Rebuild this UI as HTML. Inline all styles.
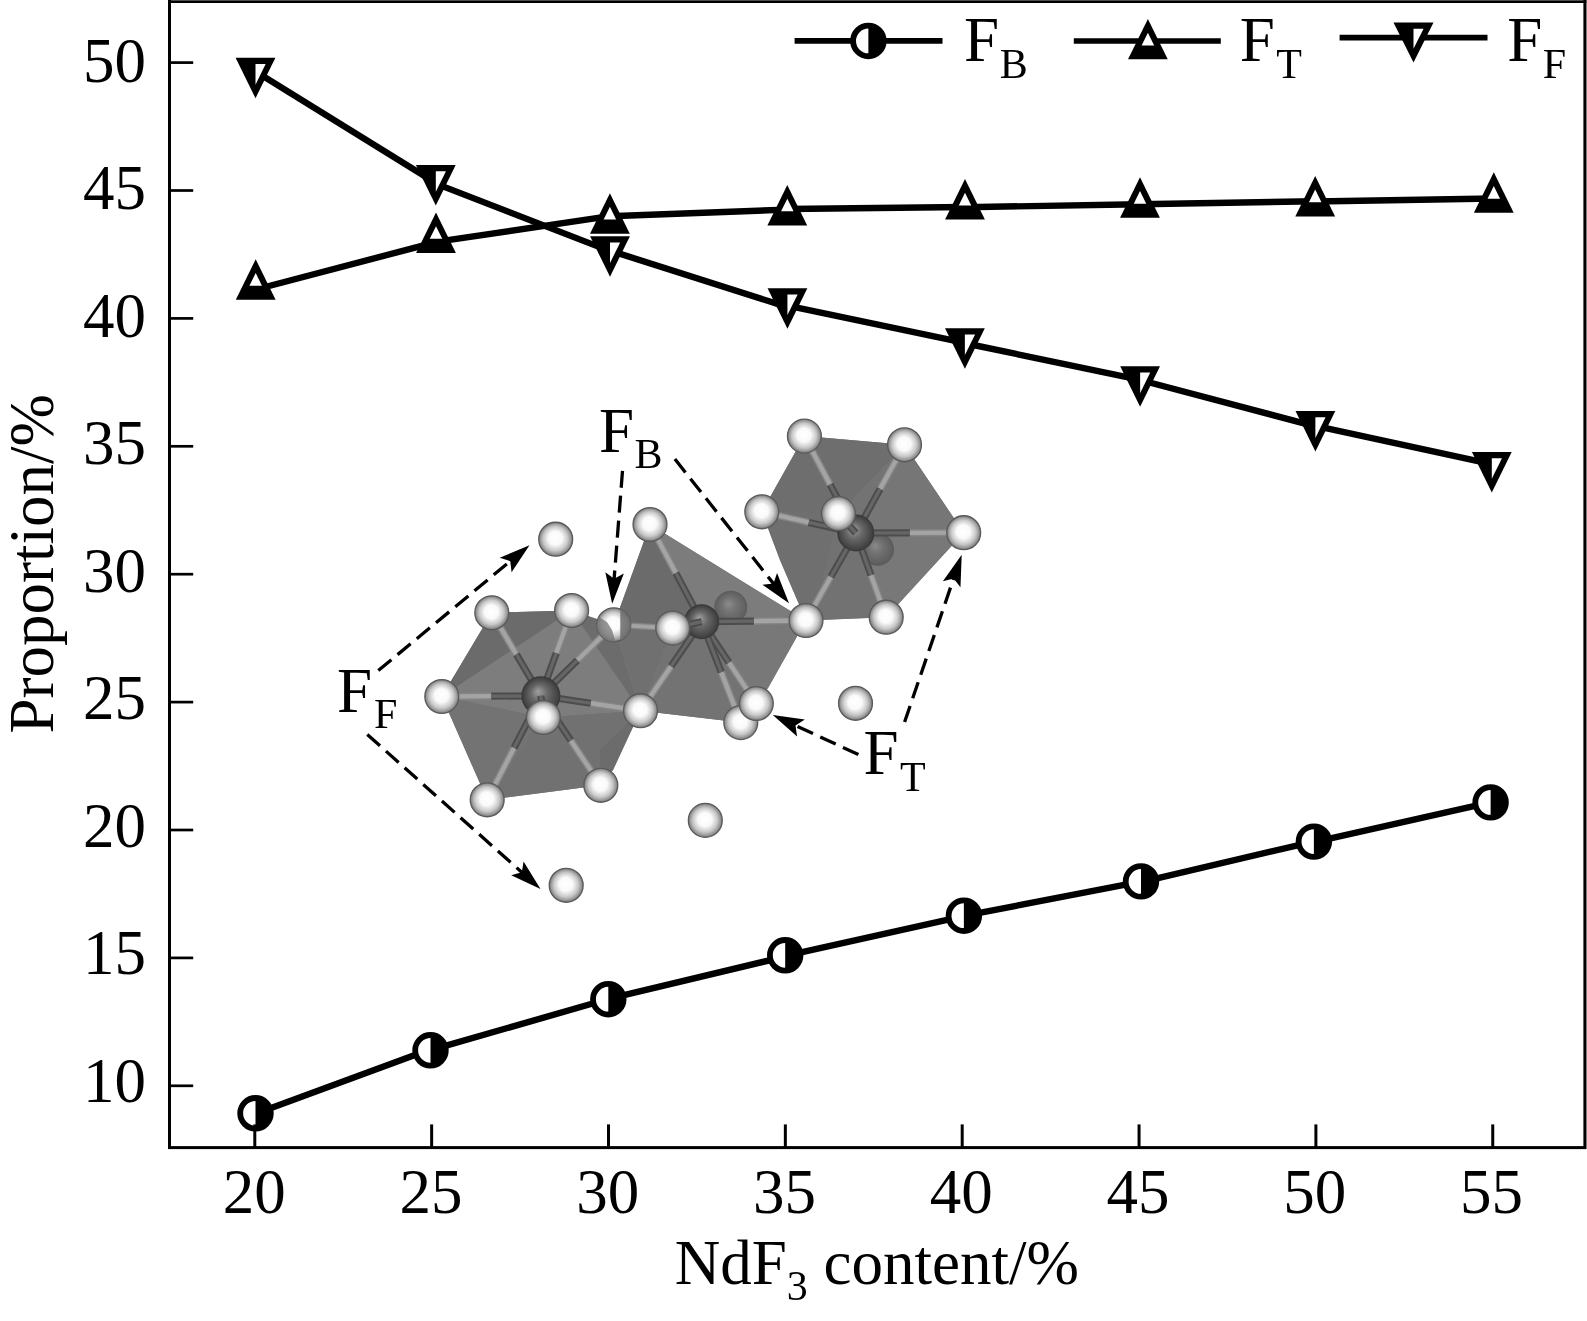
<!DOCTYPE html>
<html><head><meta charset="utf-8"><title>Proportion vs NdF3 content</title>
<style>html,body{margin:0;padding:0;background:#fff;}svg{display:block;will-change:transform;}text{font-family:"Liberation Serif","Times New Roman",serif;fill:#000;}</style>
</head><body>
<svg xmlns="http://www.w3.org/2000/svg" width="1587" height="1321" viewBox="0 0 1587 1321">
<defs>
<radialGradient id="gF" cx="0.5" cy="0.5" r="0.5" fx="0.48" fy="0.45"><stop offset="0" stop-color="#ffffff"/><stop offset="0.4" stop-color="#fafafa"/><stop offset="0.72" stop-color="#c8c8c8"/><stop offset="0.9" stop-color="#979797"/><stop offset="1" stop-color="#767676"/></radialGradient>
<radialGradient id="gN" cx="0.5" cy="0.5" r="0.5" fx="0.42" fy="0.38"><stop offset="0" stop-color="#a0a0a0"/><stop offset="0.45" stop-color="#686868"/><stop offset="1" stop-color="#3c3c3c"/></radialGradient>
</defs>
<rect x="0" y="0" width="1587" height="1321" fill="#fff"/>
<g id="molecule"><path d="M804.4 436.1L904.5 444.8L963.7 532.7L886.2 617.2L806 620.5L780 560L761.8 511.8Z" fill="#737373"/><path d="M804.4 436.1L904.5 444.8L838.4 513.6L761.8 511.8Z" fill="#6e6e6e"/><path d="M904.5 444.8L963.7 532.7L855.8 533Z" fill="#767676"/><path d="M761.8 511.8L838.4 513.6L820 590L806 620.5L780 560Z" fill="#6f6f6f"/><path d="M855.8 533L963.7 532.7L886.2 617.2Z" fill="#787878"/><path d="M838.4 513.6L855.8 533L886.2 617.2L806 620.5L820 590Z" fill="#727272"/><circle cx="877.5" cy="549.3" r="15.85" fill="url(#gN)" stroke="#3a3a3a" stroke-width="1.3" opacity="0.45"/><line x1="804.4" y1="436.1" x2="830.1" y2="484.55" stroke="#858585" stroke-width="7.2"/><line x1="804.4" y1="436.1" x2="830.1" y2="484.55" stroke="#a4a4a4" stroke-width="4.32"/><line x1="830.1" y1="484.55" x2="855.8" y2="533" stroke="#4c4c4c" stroke-width="7.2"/><line x1="830.1" y1="484.55" x2="855.8" y2="533" stroke="#666666" stroke-width="3.24"/><line x1="904.5" y1="444.8" x2="880.15" y2="488.9" stroke="#858585" stroke-width="7.2"/><line x1="904.5" y1="444.8" x2="880.15" y2="488.9" stroke="#a4a4a4" stroke-width="4.32"/><line x1="880.15" y1="488.9" x2="855.8" y2="533" stroke="#4c4c4c" stroke-width="7.2"/><line x1="880.15" y1="488.9" x2="855.8" y2="533" stroke="#666666" stroke-width="3.24"/><line x1="761.8" y1="511.8" x2="808.8" y2="522.4" stroke="#858585" stroke-width="7.2"/><line x1="761.8" y1="511.8" x2="808.8" y2="522.4" stroke="#a4a4a4" stroke-width="4.32"/><line x1="808.8" y1="522.4" x2="855.8" y2="533" stroke="#4c4c4c" stroke-width="7.2"/><line x1="808.8" y1="522.4" x2="855.8" y2="533" stroke="#666666" stroke-width="3.24"/><line x1="963.7" y1="532.7" x2="909.75" y2="532.85" stroke="#858585" stroke-width="7.2"/><line x1="963.7" y1="532.7" x2="909.75" y2="532.85" stroke="#a4a4a4" stroke-width="4.32"/><line x1="909.75" y1="532.85" x2="855.8" y2="533" stroke="#4c4c4c" stroke-width="7.2"/><line x1="909.75" y1="532.85" x2="855.8" y2="533" stroke="#666666" stroke-width="3.24"/><line x1="886.2" y1="617.2" x2="871" y2="575.1" stroke="#858585" stroke-width="7.2"/><line x1="886.2" y1="617.2" x2="871" y2="575.1" stroke="#a4a4a4" stroke-width="4.32"/><line x1="871" y1="575.1" x2="855.8" y2="533" stroke="#4c4c4c" stroke-width="7.2"/><line x1="871" y1="575.1" x2="855.8" y2="533" stroke="#666666" stroke-width="3.24"/><line x1="806" y1="620.5" x2="830.9" y2="576.75" stroke="#858585" stroke-width="7.2"/><line x1="806" y1="620.5" x2="830.9" y2="576.75" stroke="#a4a4a4" stroke-width="4.32"/><line x1="830.9" y1="576.75" x2="855.8" y2="533" stroke="#4c4c4c" stroke-width="7.2"/><line x1="830.9" y1="576.75" x2="855.8" y2="533" stroke="#666666" stroke-width="3.24"/><circle cx="855.8" cy="533" r="17.85" fill="url(#gN)" stroke="#3a3a3a" stroke-width="1.3"/><circle cx="804.4" cy="436.1" r="16.95" fill="url(#gF)" stroke="#5a5a5a" stroke-width="1.3"/><circle cx="904.5" cy="444.8" r="16.95" fill="url(#gF)" stroke="#5a5a5a" stroke-width="1.3"/><circle cx="761.8" cy="511.8" r="16.95" fill="url(#gF)" stroke="#5a5a5a" stroke-width="1.3"/><circle cx="963.7" cy="532.7" r="16.95" fill="url(#gF)" stroke="#5a5a5a" stroke-width="1.3"/><circle cx="886.2" cy="617.2" r="16.95" fill="url(#gF)" stroke="#5a5a5a" stroke-width="1.3"/><line x1="838.4" y1="513.6" x2="847.1" y2="523.3" stroke="#858585" stroke-width="7.2"/><line x1="838.4" y1="513.6" x2="847.1" y2="523.3" stroke="#a4a4a4" stroke-width="4.32"/><line x1="847.1" y1="523.3" x2="855.8" y2="533" stroke="#4c4c4c" stroke-width="7.2"/><line x1="847.1" y1="523.3" x2="855.8" y2="533" stroke="#666666" stroke-width="3.24"/><circle cx="838.4" cy="513.6" r="16.95" fill="url(#gF)" stroke="#5a5a5a" stroke-width="1.3"/><path d="M650 524.5L806 620.5L768 688L756.3 703.5L740.8 722.6L640.5 710.7L613.8 624.8Z" fill="#767676"/><path d="M650 524.5L806 620.5L701.7 621.7Z" fill="#7c7c7c"/><path d="M650 524.5L701.7 621.7L672.7 628.1L613.8 624.8Z" fill="#6b6b6b"/><path d="M613.8 624.8L672.7 628.1L640.5 710.7Z" fill="#707070"/><path d="M701.7 621.7L806 620.5L768 688L756.3 703.5Z" fill="#787878"/><path d="M672.7 628.1L701.7 621.7L756.3 703.5L740.8 722.6L640.5 710.7Z" fill="#737373"/><circle cx="730.8" cy="607.2" r="15.85" fill="url(#gN)" stroke="#3a3a3a" stroke-width="1.3" opacity="0.45"/><line x1="650" y1="524.5" x2="675.85" y2="573.1" stroke="#858585" stroke-width="7.2"/><line x1="650" y1="524.5" x2="675.85" y2="573.1" stroke="#a4a4a4" stroke-width="4.32"/><line x1="675.85" y1="573.1" x2="701.7" y2="621.7" stroke="#4c4c4c" stroke-width="7.2"/><line x1="675.85" y1="573.1" x2="701.7" y2="621.7" stroke="#666666" stroke-width="3.24"/><line x1="756.3" y1="703.5" x2="729" y2="662.6" stroke="#858585" stroke-width="7.2"/><line x1="756.3" y1="703.5" x2="729" y2="662.6" stroke="#a4a4a4" stroke-width="4.32"/><line x1="729" y1="662.6" x2="701.7" y2="621.7" stroke="#4c4c4c" stroke-width="7.2"/><line x1="729" y1="662.6" x2="701.7" y2="621.7" stroke="#666666" stroke-width="3.24"/><line x1="740.8" y1="722.6" x2="721.25" y2="672.15" stroke="#858585" stroke-width="7.2"/><line x1="740.8" y1="722.6" x2="721.25" y2="672.15" stroke="#a4a4a4" stroke-width="4.32"/><line x1="721.25" y1="672.15" x2="701.7" y2="621.7" stroke="#4c4c4c" stroke-width="7.2"/><line x1="721.25" y1="672.15" x2="701.7" y2="621.7" stroke="#666666" stroke-width="3.24"/><line x1="640.5" y1="710.7" x2="671.1" y2="666.2" stroke="#858585" stroke-width="7.2"/><line x1="640.5" y1="710.7" x2="671.1" y2="666.2" stroke="#a4a4a4" stroke-width="4.32"/><line x1="671.1" y1="666.2" x2="701.7" y2="621.7" stroke="#4c4c4c" stroke-width="7.2"/><line x1="671.1" y1="666.2" x2="701.7" y2="621.7" stroke="#666666" stroke-width="3.24"/><line x1="806" y1="620.5" x2="753.85" y2="621.1" stroke="#858585" stroke-width="7.2"/><line x1="806" y1="620.5" x2="753.85" y2="621.1" stroke="#a4a4a4" stroke-width="4.32"/><line x1="753.85" y1="621.1" x2="701.7" y2="621.7" stroke="#4c4c4c" stroke-width="7.2"/><line x1="753.85" y1="621.1" x2="701.7" y2="621.7" stroke="#666666" stroke-width="3.24"/><circle cx="701.7" cy="621.7" r="16.85" fill="url(#gN)" stroke="#3a3a3a" stroke-width="1.3"/><circle cx="740.8" cy="722.6" r="16.95" fill="url(#gF)" stroke="#5a5a5a" stroke-width="1.3"/><circle cx="756.3" cy="703.5" r="16.95" fill="url(#gF)" stroke="#5a5a5a" stroke-width="1.3"/><circle cx="806" cy="620.5" r="16.95" fill="url(#gF)" stroke="#5a5a5a" stroke-width="1.3"/><circle cx="650" cy="524.5" r="16.95" fill="url(#gF)" stroke="#5a5a5a" stroke-width="1.3"/><line x1="672.7" y1="628.1" x2="687.2" y2="624.9" stroke="#858585" stroke-width="7.2"/><line x1="672.7" y1="628.1" x2="687.2" y2="624.9" stroke="#a4a4a4" stroke-width="4.32"/><line x1="687.2" y1="624.9" x2="701.7" y2="621.7" stroke="#4c4c4c" stroke-width="7.2"/><line x1="687.2" y1="624.9" x2="701.7" y2="621.7" stroke="#666666" stroke-width="3.24"/><line x1="613.8" y1="624.8" x2="672.7" y2="628.1" stroke="#858585" stroke-width="6.4"/><line x1="613.8" y1="624.8" x2="672.7" y2="628.1" stroke="#a4a4a4" stroke-width="3.84"/><line x1="672.7" y1="628.1" x2="672.7" y2="628.1" stroke="#4c4c4c" stroke-width="6.4"/><line x1="672.7" y1="628.1" x2="672.7" y2="628.1" stroke="#666666" stroke-width="2.88"/><circle cx="672.7" cy="628.1" r="16.95" fill="url(#gF)" stroke="#5a5a5a" stroke-width="1.3"/><path d="M491.8 612.8L571.6 610.5L613.8 624.8L640.5 710.7L613 770L600.8 785.3L487.2 799.8L441.8 696.5Z" fill="#747474"/><path d="M491.8 612.8L571.6 610.5L441.8 696.5Z" fill="#6b6b6b"/><path d="M441.8 696.5L571.6 610.5L640.5 710.7L543.3 717.5Z" fill="#7d7d7d"/><path d="M571.6 610.5L613.8 624.8L640.5 710.7Z" fill="#6c6c6c"/><path d="M441.8 696.5L543.3 717.5L487.2 799.8Z" fill="#737373"/><path d="M543.3 717.5L640.5 710.7L600.8 785.3L487.2 799.8Z" fill="#717171"/><path d="M640.5 710.7L613 770L600.8 785.3L600 750Z" fill="#6c6c6c"/><line x1="491.8" y1="612.8" x2="516.35" y2="654.3" stroke="#858585" stroke-width="7.2"/><line x1="491.8" y1="612.8" x2="516.35" y2="654.3" stroke="#a4a4a4" stroke-width="4.32"/><line x1="516.35" y1="654.3" x2="540.9" y2="695.8" stroke="#4c4c4c" stroke-width="7.2"/><line x1="516.35" y1="654.3" x2="540.9" y2="695.8" stroke="#666666" stroke-width="3.24"/><line x1="571.6" y1="610.5" x2="556.25" y2="653.15" stroke="#858585" stroke-width="7.2"/><line x1="571.6" y1="610.5" x2="556.25" y2="653.15" stroke="#a4a4a4" stroke-width="4.32"/><line x1="556.25" y1="653.15" x2="540.9" y2="695.8" stroke="#4c4c4c" stroke-width="7.2"/><line x1="556.25" y1="653.15" x2="540.9" y2="695.8" stroke="#666666" stroke-width="3.24"/><line x1="441.8" y1="696.5" x2="491.35" y2="696.15" stroke="#858585" stroke-width="7.2"/><line x1="441.8" y1="696.5" x2="491.35" y2="696.15" stroke="#a4a4a4" stroke-width="4.32"/><line x1="491.35" y1="696.15" x2="540.9" y2="695.8" stroke="#4c4c4c" stroke-width="7.2"/><line x1="491.35" y1="696.15" x2="540.9" y2="695.8" stroke="#666666" stroke-width="3.24"/><line x1="640.5" y1="710.7" x2="590.7" y2="703.25" stroke="#858585" stroke-width="7.2"/><line x1="640.5" y1="710.7" x2="590.7" y2="703.25" stroke="#a4a4a4" stroke-width="4.32"/><line x1="590.7" y1="703.25" x2="540.9" y2="695.8" stroke="#4c4c4c" stroke-width="7.2"/><line x1="590.7" y1="703.25" x2="540.9" y2="695.8" stroke="#666666" stroke-width="3.24"/><line x1="487.2" y1="799.8" x2="514.05" y2="747.8" stroke="#858585" stroke-width="7.2"/><line x1="487.2" y1="799.8" x2="514.05" y2="747.8" stroke="#a4a4a4" stroke-width="4.32"/><line x1="514.05" y1="747.8" x2="540.9" y2="695.8" stroke="#4c4c4c" stroke-width="7.2"/><line x1="514.05" y1="747.8" x2="540.9" y2="695.8" stroke="#666666" stroke-width="3.24"/><line x1="600.8" y1="785.3" x2="570.85" y2="740.55" stroke="#858585" stroke-width="7.2"/><line x1="600.8" y1="785.3" x2="570.85" y2="740.55" stroke="#a4a4a4" stroke-width="4.32"/><line x1="570.85" y1="740.55" x2="540.9" y2="695.8" stroke="#4c4c4c" stroke-width="7.2"/><line x1="570.85" y1="740.55" x2="540.9" y2="695.8" stroke="#666666" stroke-width="3.24"/><line x1="613.8" y1="624.8" x2="577.35" y2="660.3" stroke="#858585" stroke-width="7.2"/><line x1="613.8" y1="624.8" x2="577.35" y2="660.3" stroke="#a4a4a4" stroke-width="4.32"/><line x1="577.35" y1="660.3" x2="540.9" y2="695.8" stroke="#4c4c4c" stroke-width="7.2"/><line x1="577.35" y1="660.3" x2="540.9" y2="695.8" stroke="#666666" stroke-width="3.24"/><circle cx="540.9" cy="695.8" r="18.85" fill="url(#gN)" stroke="#3a3a3a" stroke-width="1.3"/><circle cx="613.8" cy="624.8" r="16.95" fill="url(#gF)" stroke="#5a5a5a" stroke-width="1.3"/><clipPath id="cL8"><circle cx="613.8" cy="624.8" r="17"/></clipPath><g clip-path="url(#cL8)"><path d="M620.3 600L640 600L640 650L620.3 650Z" fill="#6c6c6c" opacity="0.85"/><path d="M594 614L607 622L612 630L618 650L594 650Z" fill="#747474" opacity="0.75"/></g><circle cx="491.8" cy="612.8" r="16.95" fill="url(#gF)" stroke="#5a5a5a" stroke-width="1.3"/><circle cx="571.6" cy="610.5" r="16.95" fill="url(#gF)" stroke="#5a5a5a" stroke-width="1.3"/><circle cx="441.8" cy="696.5" r="16.95" fill="url(#gF)" stroke="#5a5a5a" stroke-width="1.3"/><circle cx="640.5" cy="710.7" r="16.95" fill="url(#gF)" stroke="#5a5a5a" stroke-width="1.3"/><circle cx="487.2" cy="799.8" r="16.95" fill="url(#gF)" stroke="#5a5a5a" stroke-width="1.3"/><circle cx="600.8" cy="785.3" r="16.95" fill="url(#gF)" stroke="#5a5a5a" stroke-width="1.3"/><line x1="543.3" y1="717.5" x2="542.1" y2="706.65" stroke="#858585" stroke-width="7.2"/><line x1="543.3" y1="717.5" x2="542.1" y2="706.65" stroke="#a4a4a4" stroke-width="4.32"/><line x1="542.1" y1="706.65" x2="540.9" y2="695.8" stroke="#4c4c4c" stroke-width="7.2"/><line x1="542.1" y1="706.65" x2="540.9" y2="695.8" stroke="#666666" stroke-width="3.24"/><circle cx="543.3" cy="717.5" r="16.95" fill="url(#gF)" stroke="#5a5a5a" stroke-width="1.3"/><circle cx="555.7" cy="539.2" r="16.95" fill="url(#gF)" stroke="#5a5a5a" stroke-width="1.3"/><circle cx="566.2" cy="885.3" r="16.95" fill="url(#gF)" stroke="#5a5a5a" stroke-width="1.3"/><circle cx="705.3" cy="820.4" r="16.95" fill="url(#gF)" stroke="#5a5a5a" stroke-width="1.3"/><circle cx="855.5" cy="703.3" r="16.95" fill="url(#gF)" stroke="#5a5a5a" stroke-width="1.3"/></g>
<line x1="378.3" y1="670.6" x2="511.03" y2="560.52" stroke="#000" stroke-width="3.3" stroke-dasharray="17 8"/><path d="M529.5 545.2L511.58 572.15L510.26 561.16L499.7 557.83Z" fill="#000"/>
<line x1="367.3" y1="734.5" x2="522.59" y2="873.02" stroke="#000" stroke-width="3.3" stroke-dasharray="17 8"/><path d="M540.5 889L511.18 875.3L521.84 872.36L523.56 861.42Z" fill="#000"/>
<line x1="622.5" y1="470.8" x2="614.05" y2="579.87" stroke="#000" stroke-width="3.3" stroke-dasharray="17 8"/><path d="M612.2 603.8L605.32 572.17L614.13 578.87L623.87 573.61Z" fill="#000"/>
<line x1="674.9" y1="459.1" x2="774.1" y2="584.38" stroke="#000" stroke-width="3.3" stroke-dasharray="17 8"/><path d="M789 603.2L762.46 584.67L773.48 583.6L777.05 573.12Z" fill="#000"/>
<line x1="858.4" y1="754.5" x2="794.6" y2="725.13" stroke="#000" stroke-width="3.3" stroke-dasharray="17 8"/><path d="M772.8 715.1L804.85 719.61L795.51 725.55L797.07 736.51Z" fill="#000"/>
<line x1="904.6" y1="722" x2="953.94" y2="577.51" stroke="#000" stroke-width="3.3" stroke-dasharray="17 8"/><path d="M961.7 554.8L960.48 587.14L953.62 578.46L942.88 581.13Z" fill="#000"/>
<g stroke="#000" stroke-width="6.4" stroke-linecap="butt"><line x1="255.5" y1="1113.82" x2="430.5" y2="1049.28"/><line x1="430.5" y1="1050.17" x2="608.3" y2="999"/><line x1="608.3" y1="998.92" x2="785.2" y2="956.56"/><line x1="785.2" y1="955.95" x2="963.9" y2="916.12"/><line x1="963.9" y1="915.92" x2="1141" y2="881.6"/><line x1="1141" y1="882.01" x2="1313.9" y2="841.52"/><line x1="1313.9" y1="842.11" x2="1490.6" y2="802.4"/><line x1="255.7" y1="289.49" x2="436" y2="242.13"/><line x1="436" y1="241.83" x2="609.9" y2="216.18"/><line x1="609.9" y1="216.18" x2="787.3" y2="209.61"/><line x1="787.3" y1="209.02" x2="965" y2="207.07"/><line x1="965" y1="207.21" x2="1140" y2="204.19"/><line x1="1140" y1="204.31" x2="1315.2" y2="201.28"/><line x1="1315.2" y1="201.51" x2="1493.8" y2="198.49"/><line x1="255.5" y1="71.44" x2="435.8" y2="182.99"/><line x1="435.8" y1="183.61" x2="610" y2="251.11"/><line x1="610" y1="250.62" x2="787.45" y2="307.1"/><line x1="787.45" y1="305.73" x2="964.9" y2="342.95"/><line x1="964.9" y1="343.25" x2="1140.1" y2="379.88"/><line x1="1140.1" y1="380.01" x2="1315.4" y2="426.32"/><line x1="1315.4" y1="425.86" x2="1491.8" y2="464.19"/></g>
<circle cx="255.5" cy="1113.3" r="15.3" fill="#fff" stroke="#000" stroke-width="5.8"/><path d="M255.5 1098 A15.3 15.3 0 0 1 255.5 1128.6Z" fill="#000"/><circle cx="430.5" cy="1050.3" r="15.3" fill="#fff" stroke="#000" stroke-width="5.8"/><path d="M430.5 1035 A15.3 15.3 0 0 1 430.5 1065.6Z" fill="#000"/><circle cx="608.3" cy="999.2" r="15.3" fill="#fff" stroke="#000" stroke-width="5.8"/><path d="M608.3 983.9 A15.3 15.3 0 0 1 608.3 1014.5Z" fill="#000"/><circle cx="785.2" cy="955.3" r="15.3" fill="#fff" stroke="#000" stroke-width="5.8"/><path d="M785.2 940 A15.3 15.3 0 0 1 785.2 970.6Z" fill="#000"/><circle cx="963.9" cy="915.7" r="15.3" fill="#fff" stroke="#000" stroke-width="5.8"/><path d="M963.9 900.4 A15.3 15.3 0 0 1 963.9 931Z" fill="#000"/><circle cx="1141" cy="881.4" r="15.3" fill="#fff" stroke="#000" stroke-width="5.8"/><path d="M1141 866.1 A15.3 15.3 0 0 1 1141 896.7Z" fill="#000"/><circle cx="1313.9" cy="841.6" r="15.3" fill="#fff" stroke="#000" stroke-width="5.8"/><path d="M1313.9 826.3 A15.3 15.3 0 0 1 1313.9 856.9Z" fill="#000"/><circle cx="1490.6" cy="802.4" r="15.3" fill="#fff" stroke="#000" stroke-width="5.8"/><path d="M1490.6 787.1 A15.3 15.3 0 0 1 1490.6 817.7Z" fill="#000"/><path d="M255.7 259.35L275.6 299.85L235.8 299.85Z" fill="#000"/><path d="M255.7 273L261.94 285.7L249.46 285.7Z" fill="#fff"/><path d="M436 212.5L455.9 253L416.1 253Z" fill="#000"/><path d="M436 226.15L442.24 238.85L429.76 238.85Z" fill="#fff"/><path d="M609.9 193.2L629.8 233.7L590 233.7Z" fill="#000"/><path d="M609.9 206.85L616.14 219.55L603.66 219.55Z" fill="#fff"/><path d="M787.3 185L807.2 225.5L767.4 225.5Z" fill="#000"/><path d="M787.3 198.65L793.54 211.35L781.06 211.35Z" fill="#fff"/><path d="M965 179.1L984.9 219.6L945.1 219.6Z" fill="#000"/><path d="M965 192.75L971.24 205.45L958.76 205.45Z" fill="#fff"/><path d="M1140 177.3L1159.9 217.8L1120.1 217.8Z" fill="#000"/><path d="M1140 190.95L1146.24 203.65L1133.76 203.65Z" fill="#fff"/><path d="M1315.2 175.9L1335.1 216.4L1295.3 216.4Z" fill="#000"/><path d="M1315.2 189.55L1321.44 202.25L1308.96 202.25Z" fill="#fff"/><path d="M1493.8 172.3L1513.7 212.8L1473.9 212.8Z" fill="#000"/><path d="M1493.8 185.95L1500.04 198.65L1487.56 198.65Z" fill="#fff"/><path d="M235.6 57.87L275.4 57.87L255.5 98.37Z" fill="#000"/><path d="M255.5 64.07L265.65 64.07L255.5 84.72Z" fill="#fff"/><path d="M415.9 165L455.7 165L435.8 205.5Z" fill="#000"/><path d="M435.8 171.2L445.95 171.2L435.8 191.85Z" fill="#fff"/><path d="M590.1 236.2L629.9 236.2L610 276.7Z" fill="#000"/><path d="M610 242.4L620.15 242.4L610 263.05Z" fill="#fff"/><path d="M767.55 288.2L807.35 288.2L787.45 328.7Z" fill="#000"/><path d="M787.45 294.4L797.6 294.4L787.45 315.05Z" fill="#fff"/><path d="M945 328.2L984.8 328.2L964.9 368.7Z" fill="#000"/><path d="M964.9 334.4L975.05 334.4L964.9 355.05Z" fill="#fff"/><path d="M1120.2 366.3L1160 366.3L1140.1 406.8Z" fill="#000"/><path d="M1140.1 372.5L1150.25 372.5L1140.1 393.15Z" fill="#fff"/><path d="M1295.5 411.1L1335.3 411.1L1315.4 451.6Z" fill="#000"/><path d="M1315.4 417.3L1325.55 417.3L1315.4 437.95Z" fill="#fff"/><path d="M1471.9 452L1511.7 452L1491.8 492.5Z" fill="#000"/><path d="M1491.8 458.2L1501.95 458.2L1491.8 478.85Z" fill="#fff"/>
<rect x="168" y="0.3" width="1418.4" height="2.7" fill="#000"/><rect x="168" y="0" width="3" height="1149" fill="#000"/><rect x="1583.4" y="0" width="3.1" height="1149" fill="#000"/><rect x="168" y="1146.1" width="1418" height="3" fill="#000"/><rect x="170" y="61.25" width="23.2" height="2.7" fill="#000"/><rect x="170" y="189.15" width="23.2" height="2.7" fill="#000"/><rect x="170" y="317.05" width="23.2" height="2.7" fill="#000"/><rect x="170" y="444.95" width="23.2" height="2.7" fill="#000"/><rect x="170" y="572.85" width="23.2" height="2.7" fill="#000"/><rect x="170" y="700.75" width="23.2" height="2.7" fill="#000"/><rect x="170" y="828.65" width="23.2" height="2.7" fill="#000"/><rect x="170" y="956.55" width="23.2" height="2.7" fill="#000"/><rect x="170" y="1084.45" width="23.2" height="2.7" fill="#000"/><rect x="253.3" y="1124.4" width="3" height="23" fill="#000"/><rect x="430.15" y="1124.4" width="3" height="23" fill="#000"/><rect x="607" y="1124.4" width="3" height="23" fill="#000"/><rect x="783.85" y="1124.4" width="3" height="23" fill="#000"/><rect x="960.7" y="1124.4" width="3" height="23" fill="#000"/><rect x="1137.55" y="1124.4" width="3" height="23" fill="#000"/><rect x="1314.4" y="1124.4" width="3" height="23" fill="#000"/><rect x="1491.25" y="1124.4" width="3" height="23" fill="#000"/>
<g font-size="63"><text x="146.1" y="81.84" text-anchor="end">50</text><text x="146.1" y="209.34" text-anchor="end">45</text><text x="146.1" y="336.84" text-anchor="end">40</text><text x="146.1" y="464.34" text-anchor="end">35</text><text x="146.1" y="591.84" text-anchor="end">30</text><text x="146.1" y="719.34" text-anchor="end">25</text><text x="146.1" y="846.84" text-anchor="end">20</text><text x="146.1" y="974.34" text-anchor="end">15</text><text x="146.1" y="1101.84" text-anchor="end">10</text><text x="254.3" y="1212.9" text-anchor="middle">20</text><text x="431.05" y="1212.9" text-anchor="middle">25</text><text x="607.8" y="1212.9" text-anchor="middle">30</text><text x="784.55" y="1212.9" text-anchor="middle">35</text><text x="961.3" y="1212.9" text-anchor="middle">40</text><text x="1138.05" y="1212.9" text-anchor="middle">45</text><text x="1314.8" y="1212.9" text-anchor="middle">50</text><text x="1491.55" y="1212.9" text-anchor="middle">55</text></g>
<text font-size="63" transform="translate(52.7 733.5) rotate(-90)">Proportion/%</text>
<text font-size="63" x="674.8" y="1284.3">NdF<tspan font-size="42" dy="15.7">3</tspan><tspan dy="-15.7"> content/%</tspan></text>
<line x1="794.6" y1="40.9" x2="942.5" y2="40.9" stroke="#000" stroke-width="5.7"/><circle cx="868.4" cy="40.95" r="15.3" fill="#fff" stroke="#000" stroke-width="5.8"/><path d="M868.4 25.65 A15.3 15.3 0 0 1 868.4 56.25Z" fill="#000"/><line x1="1073.8" y1="41" x2="1220.8" y2="41" stroke="#000" stroke-width="5.7"/><path d="M1147.9 19.1L1167.75 59.3L1128.05 59.3Z" fill="#000"/><path d="M1147.9 32.75L1154.17 45.45L1141.63 45.45Z" fill="#fff"/><line x1="1339.6" y1="37.6" x2="1487.5" y2="37.6" stroke="#000" stroke-width="5.7"/><path d="M1393.5 22.6L1433.5 22.6L1413.5 62.5Z" fill="#000"/><path d="M1413.5 28.8L1423.55 28.8L1413.5 48.85Z" fill="#fff"/><text font-size="63" x="964.1" y="60.6">F</text><text font-size="42" x="999.8" y="77.7">B</text><text font-size="63" x="1239.7" y="61">F</text><text font-size="42" x="1276.2" y="78">T</text><text font-size="63" x="1507.2" y="61">F</text><text font-size="42" x="1542.8" y="78">F</text><text font-size="63" x="336.9" y="711.9">F</text><text font-size="42" x="373.9" y="727.6">F</text><text font-size="63" x="599" y="451.6">F</text><text font-size="42" x="634.6" y="468.2">B</text><text font-size="63" x="863.5" y="774.2">F</text><text font-size="42" x="899.9" y="790.9">T</text>
</svg></body></html>
